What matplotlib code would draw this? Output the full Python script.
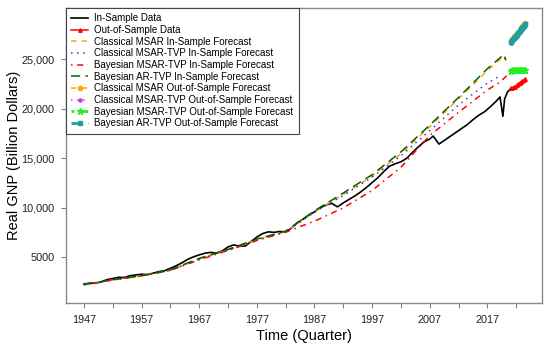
import matplotlib
matplotlib.use("Agg")
import matplotlib.pyplot as plt

plt.rcParams['font.family'] = ['Liberation Sans', 'DejaVu Sans']

# in-sample data
data_x = [1947, 1948, 1949, 1950, 1951, 1952, 1953, 1954, 1955, 1956,
          1957, 1958, 1959, 1960, 1961, 1962, 1963, 1964, 1965, 1966,
          1967, 1968, 1969, 1970, 1971, 1972, 1973, 1974, 1975, 1976,
          1977, 1978, 1979, 1980, 1981, 1982, 1983, 1984, 1985, 1986,
          1987, 1988, 1989, 1990, 1991, 1992, 1993, 1994, 1995, 1996,
          1997, 1998, 1999, 2000, 2001, 2002, 2003, 2004, 2005, 2006,
          2007, 2007.6, 2008.6, 2009.5, 2010.5, 2011.5, 2012.5, 2013.5,
          2014.5, 2015.5, 2016.5, 2017.5, 2018.5, 2019.2, 2019.7, 2020.0,
          2020.5, 2021.1]
data_y = [2300, 2400, 2380, 2520, 2750, 2860, 2990, 2960, 3150, 3220,
          3300, 3250, 3400, 3560, 3650, 3900, 4150, 4450, 4800, 5050,
          5250, 5420, 5500, 5420, 5650, 6050, 6260, 6120, 6150, 6600,
          7050, 7400, 7580, 7520, 7620, 7560, 7950, 8500, 8850, 9250,
          9600, 10000, 10300, 10450, 10100, 10500, 10850, 11200, 11600, 12050,
          12550, 13050, 13650, 14200, 14450, 14650, 15000, 15600, 16150, 16650,
          16950, 17250, 16440, 16800, 17200, 17600, 18000, 18400,
          18900, 19350, 19700, 20200, 20750, 21200, 19250, 21000,
          21700, 22070]

# in-sample forecasts
fc_x = [1947, 1952, 1957, 1962, 1967, 1972, 1977, 1982, 1987, 1992,
        1997, 2002, 2007, 2012, 2017]
cmsar_in = [2230, 2700, 3100, 3700, 4850, 5750, 6800, 7600, 9600, 11350,
            13200, 15450, 18200, 21000, 23850]
cmsar_in_end_x = [2019.5, 2019.9, 2020.2]
cmsar_in_end = [25150, 25350, 24850]
cmsartvp_in = [2240, 2720, 3120, 3700, 4820, 5720, 6780, 7580, 9550, 11250,
               13100, 15250, 17800, 20400, 22600]
cmsartvp_in_end_x = [2019.4]
cmsartvp_in_end = [23400]
bmsartvp_in = [2250, 2740, 3150, 3680, 4750, 5700, 6700, 7550, 8650, 10000,
               11750, 14100, 17300, 19650, 21900]
bmsartvp_in_end_x = [2019.2, 2021.1]
bmsartvp_in_end = [22700, 23750]
bartvp_in = [2250, 2750, 3150, 3750, 4900, 5800, 6850, 7650, 9700, 11500,
             13350, 15650, 18350, 21150, 24050]
bartvp_in_end_x = [2019.5, 2019.9, 2020.2]
bartvp_in_end = [25300, 25480, 24930]

# out-of-sample period
oos_x = [2021.1, 2021.35, 2021.6, 2021.85, 2022.1, 2022.35, 2022.6, 2022.85,
         2023.1, 2023.35, 2023.6]
oos_data = [22070, 22120, 22170, 22250, 22400, 22480, 22630, 22720, 22820, 22900, 22980]
cmsar_out = [26900, 27080, 27260, 27440, 27620, 27800, 27980, 28160, 28340, 28520, 28700]
cmsartvp_out = [26700, 26870, 27040, 27210, 27390, 27570, 27750, 27930, 28100, 28280, 28450]
bmsartvp_out = [23850, 23880, 23900, 23910, 23920, 23930, 23940, 23950, 23950, 23960, 23960]
bartvp_out = [26780, 26950, 27120, 27300, 27480, 27660, 27840, 28020, 28200, 28390, 28570]

x_ticks = [1947, 1952, 1957, 1962, 1967, 1972, 1977, 1982, 1987, 1992,
           1997, 2002, 2007, 2012, 2017, 2022]
x_labels = ['1947', '', '1957', '', '1967', '', '1977', '', '1987', '',
            '1997', '', '2007', '', '2017', '']
y_ticks = [5000, 10000, 15000, 20000, 25000]
y_labels = ['5000', '10,000', '15,000', '20,000', '25,000']

fig = plt.figure(figsize=(5.5, 3.5), dpi=100)
ax = fig.add_axes([0.12, 0.135, 0.8655, 0.842])

lw = 1.1
ax.plot(data_x, data_y, color='black', lw=1.2, label='In-Sample Data')
ax.plot(oos_x, oos_data, color='red', lw=lw, marker='^', ms=2.5,
        label='Out-of-Sample Data')
ax.plot(fc_x + cmsar_in_end_x, cmsar_in + cmsar_in_end, color='orange', lw=lw,
        dashes=(3.5, 3.5), label='Classical MSAR In-Sample Forecast')
ax.plot(fc_x + cmsartvp_in_end_x, cmsartvp_in + cmsartvp_in_end, color='#3b3bd6', lw=lw,
        dashes=(1, 3), label='Classical MSAR-TVP In-Sample Forecast')
ax.plot(fc_x + bmsartvp_in_end_x, bmsartvp_in + bmsartvp_in_end, color='red', lw=lw,
        dashes=(1, 3, 4, 3), label='Bayesian MSAR-TVP In-Sample Forecast')
ax.plot(fc_x + bartvp_in_end_x, bartvp_in + bartvp_in_end, color='darkgreen', lw=lw,
        dashes=(6, 3.5), label='Bayesian AR-TVP In-Sample Forecast')
ax.plot(oos_x, cmsar_out, color='orange', lw=lw, dashes=(3.5, 3.5), marker='o', ms=3,
        label='Classical MSAR Out-of-Sample Forecast')
ax.plot(oos_x, cmsartvp_out, color='#c43be6', lw=lw, dashes=(1, 3), marker='o', ms=2.3,
        label='Classical MSAR-TVP Out-of-Sample Forecast')
ax.plot(oos_x, bmsartvp_out, color='#22ee22', lw=2, dashes=(1, 2, 3, 2), marker='*', ms=4.5,
        label='Bayesian MSAR-TVP Out-of-Sample Forecast')
ax.plot(oos_x, bartvp_out, color='#1fa0a0', lw=2, dashes=(4, 2), marker='s', ms=3,
        label='Bayesian AR-TVP Out-of-Sample Forecast')

ax.set_xlim(1943.88, 2026.49)
ax.set_ylim(415, 30180)
ax.set_xticks(x_ticks)
ax.set_xticklabels(x_labels)
ax.set_yticks(y_ticks)
ax.set_yticklabels(y_labels)
ax.tick_params(axis='both', length=3.6, width=0.8, color='#808080',
               labelsize=7.8, labelcolor='#222222')
ax.tick_params(axis='x', pad=5)
ax.tick_params(axis='y', pad=4.5)
for s in ax.spines.values():
    s.set_color('#8a8a8a')
    s.set_linewidth(1.0)

ax.set_xlabel('Time (Quarter)', fontsize=10.5, labelpad=3)
ax.set_ylabel('Real GNP (Billion Dollars)', fontsize=10.5, labelpad=0.5)

leg = ax.legend(loc='upper left', borderaxespad=0, fontsize=7.0, handlelength=1.7,
                handletextpad=0.65, labelspacing=0.17, numpoints=1, fancybox=False,
                framealpha=1, borderpad=0.55)
leg.get_frame().set_edgecolor('#444444')
leg.get_frame().set_linewidth(0.8)

fig.savefig('out.png', dpi=100)
